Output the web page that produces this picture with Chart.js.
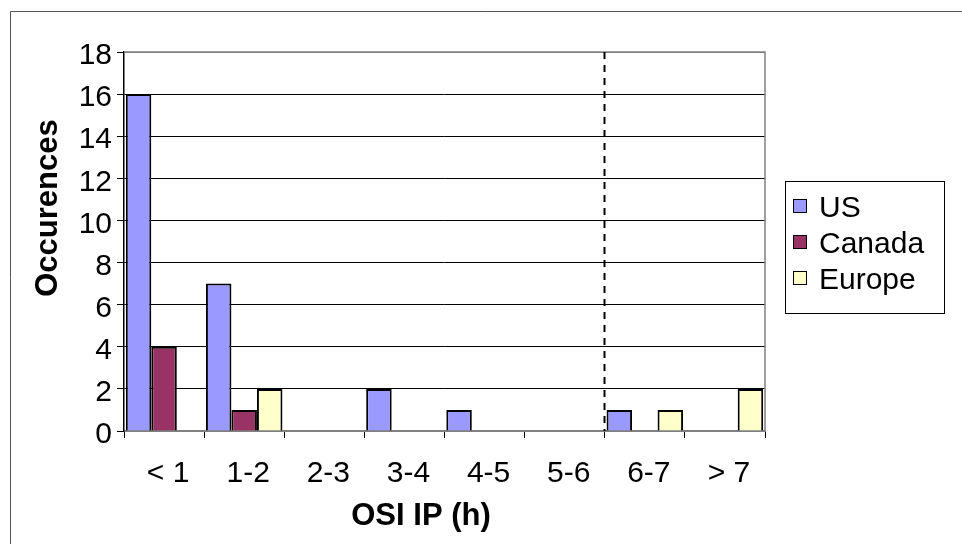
<!DOCTYPE html>
<html>
<head>
<meta charset="utf-8">
<script src="https://cdn.jsdelivr.net/npm/chart.js@4.4.1/dist/chart.umd.min.js"></script>
<style>
  html, body { margin: 0; padding: 0; background: #ffffff; }
  #wrap { width: 962px; height: 544px; }
</style>
</head>
<body>
<div id="wrap"><canvas id="c" width="962" height="544"></canvas></div>
<script>
// Occurrence counts per OSI IP duration bucket
const categories   = ['< 1', '1-2', '2-3', '3-4', '4-5', '5-6', '6-7', '> 7'];
const usValues     = [16, 7, 0, 2, 1, 0, 1, 0];
const canadaValues = [4, 1, 0, 0, 0, 0, 0, 0];
const europeValues = [0, 2, 0, 0, 0, 0, 1, 2];
const seriesNames  = ['US', 'Canada', 'Europe'];
const seriesColors = ['#9999FF', '#993366', '#FFFFCC'];
const yMin = 0, yMax = 18, yStep = 2;
const xTitle = 'OSI IP (h)';
const yTitle = 'Occurences';
const dividerAfter = '5-6';   // dashed separator drawn after this bucket

const FONT = '"Liberation Sans", Arial, Helvetica, sans-serif';

const decor = {
  id: 'decor',
  beforeDraw(chart) {
    const ctx = chart.ctx;
    ctx.save();
    ctx.fillStyle = '#ffffff';
    ctx.fillRect(0, 0, chart.width, chart.height);
    // outer frame
    ctx.strokeStyle = '#555555';
    ctx.lineWidth = 1;
    ctx.beginPath();
    ctx.moveTo(10.5, chart.height);
    ctx.lineTo(10.5, 11.5);
    ctx.lineTo(chart.width, 11.5);
    ctx.stroke();
    ctx.restore();
  },
  afterDraw(chart) {
    const { ctx, chartArea: a, scales: { x } } = chart;
    ctx.save();
    // plot area border, top and right
    ctx.strokeStyle = '#808080';
    ctx.lineWidth = 1.5;
    ctx.beginPath();
    ctx.moveTo(a.left, a.top);
    ctx.lineTo(a.right, a.top);
    ctx.lineTo(a.right, a.bottom);
    ctx.stroke();

    // dashed separator between buckets
    const i = categories.indexOf(dividerAfter);
    const xd = Math.round((x.getPixelForValue(i) + x.getPixelForValue(i + 1)) / 2) - 0.5;
    ctx.strokeStyle = '#000000';
    ctx.lineWidth = 2;
    ctx.setLineDash([7, 6]);
    ctx.beginPath();
    ctx.moveTo(xd, a.top);
    ctx.lineTo(xd, a.bottom);
    ctx.stroke();
    ctx.setLineDash([]);

    // axis titles
    ctx.fillStyle = '#000000';
    ctx.font = 'bold 31px ' + FONT;
    ctx.textAlign = 'center';
    ctx.textBaseline = 'alphabetic';
    ctx.fillText(xTitle, 421, 525);
    ctx.save();
    ctx.translate(57, 208);
    ctx.rotate(-Math.PI / 2);
    ctx.fillText(yTitle, 0, 0);
    ctx.restore();

    // legend
    const lx = 785.5, ly = 181.5, lw = 159, lh = 132;
    ctx.strokeStyle = '#000000';
    ctx.lineWidth = 1;
    ctx.strokeRect(lx, ly, lw, lh);
    ctx.font = '30px ' + FONT;
    ctx.textAlign = 'left';
    ctx.textBaseline = 'middle';
    chart.data.datasets.forEach((ds, k) => {
      const cy = 209 + k * 36;
      ctx.fillStyle = ds.backgroundColor;
      ctx.fillRect(793, cy - 10, 14, 14);
      ctx.strokeRect(793.5, cy - 9.5, 13, 13);
      ctx.fillStyle = '#000000';
      ctx.fillText(ds.label, 819, cy);
    });
    ctx.restore();
  }
};

const datasetFrom = (name, values, color) => ({
  label: name,
  data: values,
  backgroundColor: color,
  borderColor: '#000000',
  borderWidth: 2,
  borderSkipped: 'start',
  categoryPercentage: 0.955,
  barPercentage: 1.0
});

new Chart(document.getElementById('c'), {
  type: 'bar',
  data: {
    labels: categories,
    datasets: [
      datasetFrom(seriesNames[0], usValues, seriesColors[0]),
      datasetFrom(seriesNames[1], canadaValues, seriesColors[1]),
      datasetFrom(seriesNames[2], europeValues, seriesColors[2])
    ]
  },
  options: {
    responsive: false,
    devicePixelRatio: 1,
    animation: false,
    layout: { padding: { left: 0, top: 52, right: 197, bottom: 0 } },
    plugins: {
      legend: { display: false },
      tooltip: { enabled: false },
      title: { display: false }
    },
    scales: {
      x: {
        offset: true,
        grid: {
          offset: true,
          drawOnChartArea: false,
          drawTicks: true,
          tickLength: 7,
          tickColor: '#000000',
          lineWidth: 1
        },
        border: { display: true, color: '#808080', width: 1.5 },
        ticks: {
          color: '#000000',
          font: { family: FONT, size: 30 },
          padding: 18,
          labelOffset: 4,
          maxRotation: 0,
          autoSkip: false
        },
        afterFit(scale) { scale.height = 113; }
      },
      y: {
        min: yMin,
        max: yMax,
        grid: {
          color: (c) => (c.tick && (c.tick.value === yMax || c.tick.value === yMin)) ? '#808080' : '#000000',
          lineWidth: 1,
          drawTicks: true,
          tickLength: 7,
          tickColor: '#000000'
        },
        border: { display: true, color: '#000000', width: 1.5 },
        ticks: {
          stepSize: yStep,
          color: '#000000',
          font: { family: FONT, size: 30 },
          padding: 5,
          labelOffset: 4
        },
        afterFit(scale) { scale.width = 124; }
      }
    }
  },
  plugins: [decor]
});
</script>
</body>
</html>
